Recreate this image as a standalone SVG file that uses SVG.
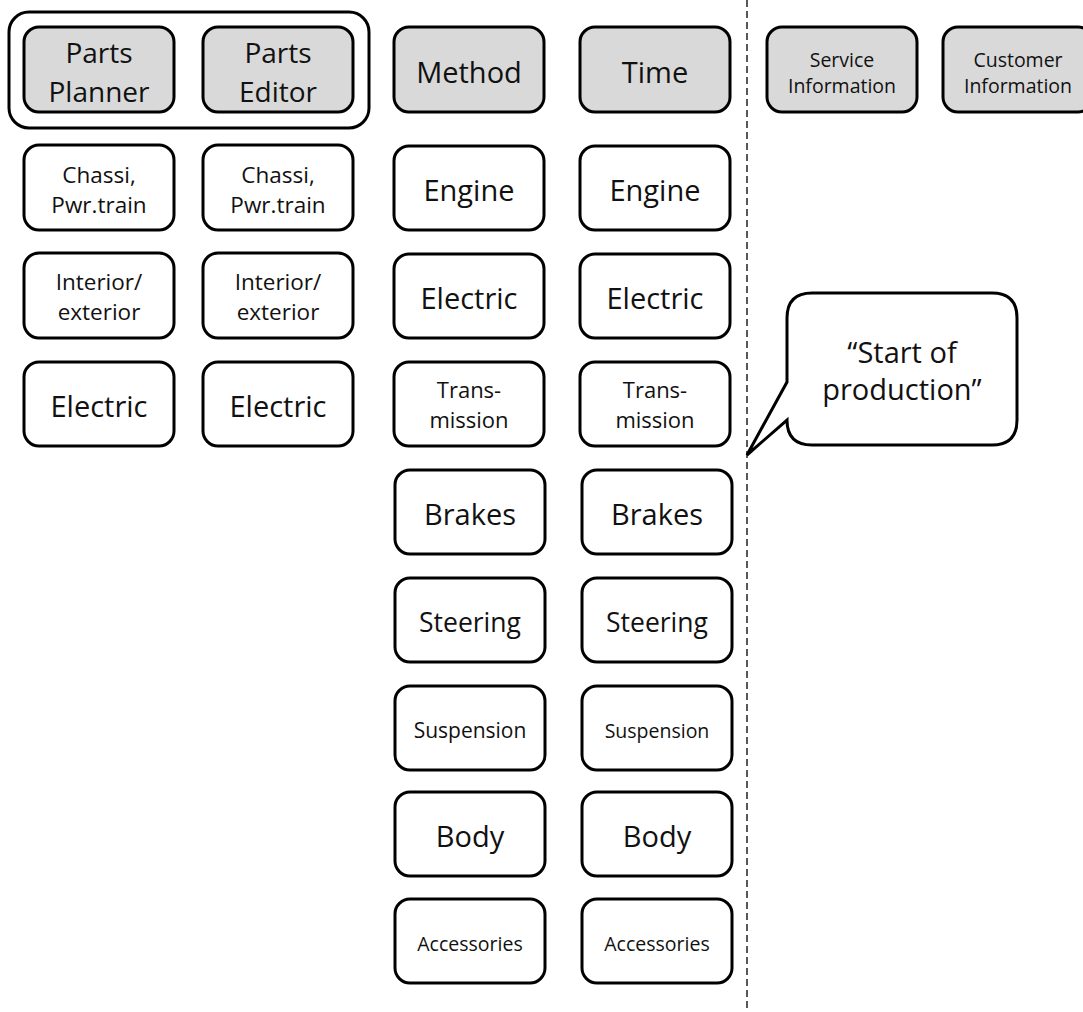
<svg xmlns="http://www.w3.org/2000/svg" width="1083" height="1012" viewBox="0 0 1083 1012">
  <style>
    .box { fill: #ffffff; stroke: #000000; stroke-width: 3; }
    .hdr { fill: #d9d9d9; stroke: #000000; stroke-width: 3; }
    .frame { fill: none; stroke: #000000; stroke-width: 3; }
    text { font-family: "Open Sans", "Noto Sans", "Liberation Sans", sans-serif; fill: #111111; text-anchor: middle; }
    .f29 { font-size: 29px; }
    .f28 { font-size: 28px; }
    .f26 { font-size: 26.5px; }
    .f23 { font-size: 22.5px; }
    .f22 { font-size: 22px; }
    .f21 { font-size: 21px; }
    .f19 { font-size: 19.5px; }
    .divider { stroke: #222222; stroke-width: 1.5; stroke-dasharray: 7 4; fill: none; }
    .bubble { fill: #ffffff; stroke: #000000; stroke-width: 3; stroke-linejoin: miter; }
  </style>

  <!-- separators -->
  <g id="connectors">
    <line class="divider" x1="747" y1="0" x2="747" y2="1012"/>
  </g>

  <!-- Parts group frame -->
  <g id="parts-group">
    <rect class="frame" x="9" y="12" width="360" height="116" rx="20"/>
  </g>

  <!-- Header row -->
  <g id="parts-planner">
    <rect class="hdr" x="24" y="27" width="150" height="85" rx="15"/>
    <text class="f28" x="99" y="63">Parts</text>
    <text class="f28" x="99" y="102">Planner</text>
  </g>
  <g id="parts-editor">
    <rect class="hdr" x="203" y="27" width="150" height="85" rx="15"/>
    <text class="f28" x="278" y="63">Parts</text>
    <text class="f28" x="278" y="102">Editor</text>
  </g>
  <g id="method">
    <rect class="hdr" x="394" y="27" width="150" height="85" rx="15"/>
    <text class="f29" x="469" y="83">Method</text>
  </g>
  <g id="time">
    <rect class="hdr" x="580" y="27" width="150" height="85" rx="15"/>
    <text class="f29" x="655" y="83">Time</text>
  </g>
  <g id="service-information">
    <rect class="hdr" x="767" y="27" width="150" height="85" rx="15"/>
    <text class="f19" x="842" y="67">Service</text>
    <text class="f19" x="842" y="93">Information</text>
  </g>
  <g id="customer-information">
    <rect class="hdr" x="943" y="27" width="150" height="85" rx="15"/>
    <text class="f19" x="1018" y="67">Customer</text>
    <text class="f19" x="1018" y="93">Information</text>
  </g>

  <!-- Parts Planner column -->
  <g id="pp-chassi">
    <rect class="box" x="24" y="145" width="150" height="85" rx="15"/>
    <text class="f23" x="99" y="183">Chassi,</text>
    <text class="f23" x="99" y="213">Pwr.train</text>
  </g>
  <g id="pp-interior">
    <rect class="box" x="24" y="253" width="150" height="85" rx="15"/>
    <text class="f23" x="99" y="290">Interior/</text>
    <text class="f23" x="99" y="320">exterior</text>
  </g>
  <g id="pp-electric">
    <rect class="box" x="24" y="362" width="150" height="84" rx="15"/>
    <text class="f29" x="99" y="417">Electric</text>
  </g>

  <!-- Parts Editor column -->
  <g id="pe-chassi">
    <rect class="box" x="203" y="145" width="150" height="85" rx="15"/>
    <text class="f23" x="278" y="183">Chassi,</text>
    <text class="f23" x="278" y="213">Pwr.train</text>
  </g>
  <g id="pe-interior">
    <rect class="box" x="203" y="253" width="150" height="85" rx="15"/>
    <text class="f23" x="278" y="290">Interior/</text>
    <text class="f23" x="278" y="320">exterior</text>
  </g>
  <g id="pe-electric">
    <rect class="box" x="203" y="362" width="150" height="84" rx="15"/>
    <text class="f29" x="278" y="417">Electric</text>
  </g>

  <!-- Method column -->
  <g id="m-engine">
    <rect class="box" x="394" y="146" width="150" height="84" rx="15"/>
    <text class="f29" x="469" y="201">Engine</text>
  </g>
  <g id="m-electric">
    <rect class="box" x="394" y="254" width="150" height="84" rx="15"/>
    <text class="f29" x="469" y="309">Electric</text>
  </g>
  <g id="m-transmission">
    <rect class="box" x="394" y="362" width="150" height="84" rx="15"/>
    <text class="f22" x="469" y="398">Trans-</text>
    <text class="f22" x="469" y="428">mission</text>
  </g>
  <g id="m-brakes">
    <rect class="box" x="395" y="470" width="150" height="84" rx="15"/>
    <text class="f29" x="470" y="525">Brakes</text>
  </g>
  <g id="m-steering">
    <rect class="box" x="395" y="578" width="150" height="84" rx="15"/>
    <text class="f26" x="470" y="632">Steering</text>
  </g>
  <g id="m-suspension">
    <rect class="box" x="395" y="686" width="150" height="84" rx="15"/>
    <text class="f21" x="470" y="738">Suspension</text>
  </g>
  <g id="m-body">
    <rect class="box" x="395" y="792" width="150" height="84" rx="15"/>
    <text class="f29" x="470" y="847">Body</text>
  </g>
  <g id="m-accessories">
    <rect class="box" x="395" y="899" width="150" height="84" rx="15"/>
    <text class="f19" x="470" y="951">Accessories</text>
  </g>

  <!-- Time column -->
  <g id="t-engine">
    <rect class="box" x="580" y="146" width="150" height="84" rx="15"/>
    <text class="f29" x="655" y="201">Engine</text>
  </g>
  <g id="t-electric">
    <rect class="box" x="580" y="254" width="150" height="84" rx="15"/>
    <text class="f29" x="655" y="309">Electric</text>
  </g>
  <g id="t-transmission">
    <rect class="box" x="580" y="362" width="150" height="84" rx="15"/>
    <text class="f22" x="655" y="398">Trans-</text>
    <text class="f22" x="655" y="428">mission</text>
  </g>
  <g id="t-brakes">
    <rect class="box" x="582" y="470" width="150" height="84" rx="15"/>
    <text class="f29" x="657" y="525">Brakes</text>
  </g>
  <g id="t-steering">
    <rect class="box" x="582" y="578" width="150" height="84" rx="15"/>
    <text class="f26" x="657" y="632">Steering</text>
  </g>
  <g id="t-suspension">
    <rect class="box" x="582" y="686" width="150" height="84" rx="15"/>
    <text class="f19" x="657" y="738">Suspension</text>
  </g>
  <g id="t-body">
    <rect class="box" x="582" y="792" width="150" height="84" rx="15"/>
    <text class="f29" x="657" y="847">Body</text>
  </g>
  <g id="t-accessories">
    <rect class="box" x="582" y="899" width="150" height="84" rx="15"/>
    <text class="f19" x="657" y="951">Accessories</text>
  </g>

  <!-- Callout -->
  <g id="start-of-production">
    <path class="bubble" d="M 787 382 L 787 318 Q 787 293 812 293 L 992 293 Q 1017 293 1017 318 L 1017 420 Q 1017 445 992 445 L 812 445 Q 787 445 787 420 L 747 455 Z"/>
    <text class="f29" x="902" y="363">“Start of</text>
    <text class="f29" x="902" y="400">production”</text>
  </g>
</svg>
